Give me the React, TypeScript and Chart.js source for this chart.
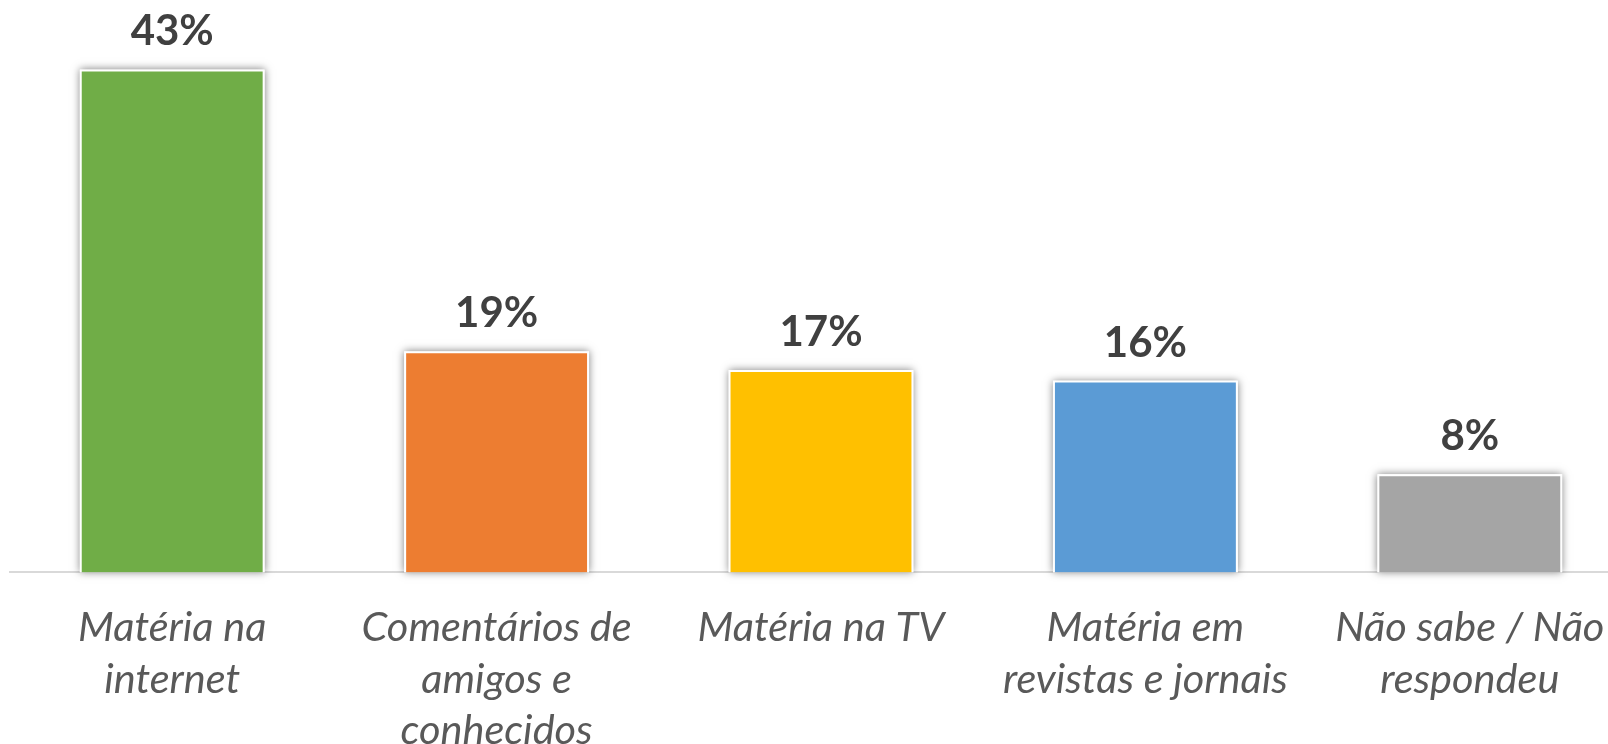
import React, { useEffect, useRef } from "react";
import { Chart, registerables } from "chart.js";

Chart.register(...registerables);

const categories: string[][] = [
  ["Matéria na", "internet"],
  ["Comentários de", "amigos e", "conhecidos"],
  ["Matéria na TV"],
  ["Matéria em", "revistas e jornais"],
  ["Não sabe / Não", "respondeu"],
];
const values: number[] = [43, 18.9, 17.3, 16.4, 8.4];
const valueLabels: string[] = ["43%", "19%", "17%", "16%", "8%"];
const barColors: string[] = ["#70AD47", "#ED7D31", "#FFC000", "#5B9BD5", "#A5A5A5"];

const FONT = "Lato, 'Open Sans', sans-serif";

const shadowPlugin = {
  id: "barShadow",
  beforeDatasetsDraw(chart: any) {
    const ctx = chart.ctx;
    const meta = chart.getDatasetMeta(0);
    ctx.save();
    ctx.shadowColor = "rgba(0,0,0,0.5)";
    ctx.shadowBlur = 8;
    ctx.shadowOffsetX = 0;
    ctx.shadowOffsetY = 0;
    ctx.fillStyle = "#FFFFFF";
    meta.data.forEach((bar: any) => {
      const { x, y, base, width } = bar.getProps(["x", "y", "base", "width"], true);
      ctx.fillRect(x - width / 2, y, width, base - y);
    });
    ctx.restore();
  },
};

const labelPlugin = {
  id: "valueLabels",
  afterDatasetsDraw(chart: any) {
    const ctx = chart.ctx;
    const meta = chart.getDatasetMeta(0);
    ctx.save();
    ctx.font = `bold 42px ${FONT}`;
    ctx.fillStyle = "#404040";
    ctx.textAlign = "center";
    ctx.textBaseline = "alphabetic";
    meta.data.forEach((bar: any, i: number) => {
      ctx.fillText(valueLabels[i], bar.x, bar.y - 24);
    });
    ctx.restore();
  },
};

export default function App() {
  const ref = useRef<HTMLCanvasElement>(null);
  useEffect(() => {
    if (!ref.current) return;
    const chart = new Chart(ref.current, {
      type: "bar",
      data: {
        labels: categories,
        datasets: [
          {
            data: values,
            backgroundColor: barColors,
            borderColor: "#FFFFFF",
            borderWidth: 2,
            barPercentage: 0.57,
            categoryPercentage: 1,
          },
        ],
      },
      options: {
        responsive: false,
        animation: false,
        layout: { padding: { left: 10, right: 10, top: 11, bottom: 0 } },
        plugins: {
          legend: { display: false },
          tooltip: { enabled: false },
          title: { display: false },
        },
        scales: {
          x: {
            grid: { display: false, drawTicks: false },
            border: { display: true, color: "#D9D9D9", width: 2 },
            ticks: {
              color: "#595959",
              font: { family: FONT, size: 41.5, style: "italic", lineHeight: 1.25 },
              padding: 29,
              maxRotation: 0,
              autoSkip: false,
            },
          },
          y: {
            display: false,
            min: 0,
            max: 48,
          },
        },
      },
      plugins: [shadowPlugin, labelPlugin],
    });
    return () => chart.destroy();
  }, []);
  return (
    <div
      style={{
        position: "fixed",
        left: 0,
        top: 0,
        width: 1608,
        height: 744,
        overflow: "hidden",
        background: "#FFFFFF",
      }}
    >
      <canvas ref={ref} width={1642} height={786} style={{ display: "block" }} />
    </div>
  );
}
